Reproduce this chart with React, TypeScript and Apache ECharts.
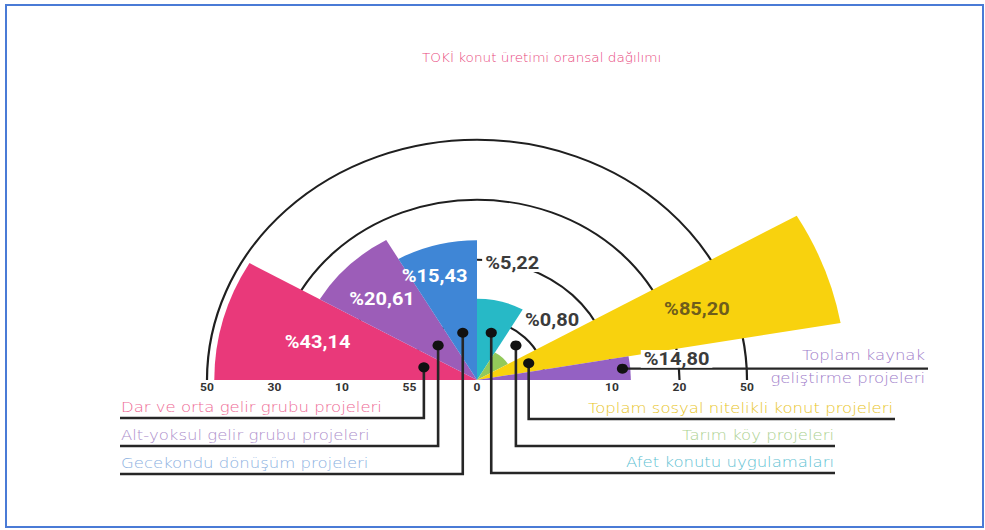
import React, { useEffect, useRef } from 'react';
import * as echarts from 'echarts';

// ---------------- data ----------------
const TITLE = 'TOKİ konut üretimi oransal dağılımı';
const CATEGORIES = [
  'Dar ve orta gelir grubu projeleri',
  'Alt-yoksul gelir grubu projeleri',
  'Gecekondu dönüşüm projeleri',
  'Afet konutu uygulamaları',
  'Tarım köy projeleri',
  'Toplam sosyal nitelikli konut projeleri',
  'Toplam kaynak geliştirme projeleri',
];
const VALUES = [43.14, 20.61, 15.43, 5.22, 0.8, 85.2, 14.8];
const LEFT_TICKS = ['0', '55', '10', '30', '50'];
const RIGHT_TICKS = ['', '', '10', '20', '50'];

// ---------------- layout & style ----------------
const S = 0.89; // the reference picture is squeezed vertically
const W = 985;
const H = 530 / S;
const CX = 477;
const CY = 380 / S;
const RING_R = 270;
const ROSE_K = 40; // px per sqrt(%)
const SLOT_SPAN = [3, 3, 3, 3, 3, 2, 1];
const SLOT_TOTAL = 18;
const COLORS = ['#e9397a', '#9c5db8', '#3f86d6', '#27b9c6', '#93c95a', '#f8d20e', '#9461c3'];
const TEXT_COLORS = ['#ee6a95', '#ae90cc', '#8cb1df', '#5fc2d3', '#acd190', '#e8c52a', '#a07dca'];
const LABEL_COLORS = ['#ffffff', '#ffffff', '#ffffff', '#3b3b3b', '#3b3b3b', '#6e5d1c', '#3b3b3b'];
const LABEL_R = [165, 132, 124, 136, 101, 234, 201];
const LABEL_DA = [0, 1, 5, 0, -3, 0, 1.8];
const LABEL_BG = [false, false, false, true, false, false, true];
const DOT_R = [55, 55, 55, 55, 55, 55, 146];
const ROW_Y = [418, 446, 474, 473, 446, 419, -1];
const LINE_END = [120, 120, 120, 835, 835, 895, 928];
const TEXT_X = [121, 121, 121, 834, 834, 893, 925];
const LEGEND_FONT = 'DejaVu Sans';
const BOLD_FONT = 'Roboto';

const fmt = (v: number) => '%' + v.toFixed(2).replace('.', ',');

export default function App() {
  const ref = useRef<HTMLDivElement>(null);
  useEffect(() => {
    if (!ref.current) return;
    const chart = echarts.init(ref.current, undefined, { renderer: 'svg' });

    let acc = 0;
    const data = VALUES.map((v, i) => {
      const row = [v, acc, acc + SLOT_SPAN[i]];
      acc += SLOT_SPAN[i];
      return row;
    });

    const renderItem = (params: any, api: any) => {
      const i = params.dataIndex;
      const cs = params.coordSys;
      const cx = cs.cx;
      const cy = cs.cy;
      const rv = Math.sqrt(api.value(0) as number);
      const pA = api.coord([rv, api.value(1)]);
      const pB = api.coord([rv, api.value(2)]);
      const ang = (p: number[]) => {
        let t = Math.atan2(cy - p[1], p[0] - cx);
        if (t < -Math.PI / 2) t += 2 * Math.PI;
        return t;
      };
      const r = Math.hypot(pA[0] - cx, pA[1] - cy);
      const t0 = ang(pA);
      const t1 = ang(pB);
      const tm = (t0 + t1) / 2;
      const pol = (rad: number, t: number) => [cx + rad * Math.cos(t), cy - rad * Math.sin(t)];
      const lp = pol(LABEL_R[i], tm + (LABEL_DA[i] * Math.PI) / 180);
      const dp = pol(DOT_R[i], tm);
      const hasRow = ROW_Y[i] > 0;
      const pts = hasRow
        ? [dp, [dp[0], ROW_Y[i] / S], [LINE_END[i], ROW_Y[i] / S]]
        : [dp, [LINE_END[i], dp[1]]];
      const leftSide = LINE_END[i] < cx;
      const legendText = hasRow ? CATEGORIES[i] : CATEGORIES[i].replace('kaynak ', 'kaynak\n');
      return {
        type: 'group',
        children: [
          {
            type: 'sector',
            z2: 1,
            shape: { cx, cy, r0: 0, r, startAngle: -t0, endAngle: -t1, clockwise: true },
            style: { fill: COLORS[i] },
          },
          {
            type: 'polyline',
            z2: 20,
            shape: { points: pts },
            style: { stroke: '#262626', lineWidth: 2.6, fill: null },
          },
          {
            type: 'circle',
            z2: 21,
            shape: { cx: dp[0], cy: dp[1], r: 5.6 },
            style: { fill: '#111111' },
          },
          {
            type: 'text',
            z2: 22,
            x: lp[0],
            y: lp[1],
            style: {
              text: fmt(api.value(0) as number),
              fill: LABEL_COLORS[i],
              fontFamily: BOLD_FONT,
              fontWeight: 'bold',
              fontSize: 20,
              align: 'center',
              verticalAlign: 'middle',
              backgroundColor: LABEL_BG[i] ? '#ffffff' : undefined,
              padding: LABEL_BG[i] ? [0, 3] : 0,
            },
          },
          {
            type: 'text',
            z2: 22,
            x: TEXT_X[i],
            y: hasRow ? (ROW_Y[i] - 11) / S : dp[1] - 1.5 / S,
            style: {
              text: legendText,
              fill: TEXT_COLORS[i],
              fontFamily: LEGEND_FONT,
              fontWeight: 200,
              fontSize: 16.5,
              lineHeight: 23 / S,
              align: leftSide ? 'left' : 'right',
              verticalAlign: 'middle',
            },
          },
        ],
      };
    };

    const tickLabel = (margin: number) => ({
      interval: 0,
      color: '#333333',
      fontFamily: BOLD_FONT,
      fontWeight: 'bold' as const,
      fontSize: 12,
      align: 'center' as const,
      verticalAlign: 'top' as const,
      margin,
    });

    chart.setOption({
      animation: false,
      backgroundColor: '#ffffff',
      title: {
        text: TITLE,
        left: 417,
        top: 47 / S,
        textStyle: {
          color: '#e8477d',
          fontFamily: LEGEND_FONT,
          fontWeight: 200,
          fontSize: 13.6,
        },
      },
      polar: [
        { center: [CX, CY], radius: ROSE_K * 10 },
        { center: [CX, CY], radius: RING_R },
        { center: [CX, CY], radius: RING_R },
      ],
      angleAxis: [
        { polarIndex: 0, type: 'value', min: 0, max: SLOT_TOTAL, startAngle: 180, endAngle: 0, clockwise: true, show: false },
        { polarIndex: 1, type: 'value', min: 0, max: 180, startAngle: 0, endAngle: 180, clockwise: false, show: false },
        { polarIndex: 2, type: 'value', min: 0, max: 180, startAngle: 180, endAngle: 0, clockwise: true, show: false },
      ],
      radiusAxis: [
        { polarIndex: 0, type: 'value', min: 0, max: 10, show: false },
        {
          polarIndex: 1,
          type: 'category',
          data: RIGHT_TICKS,
          boundaryGap: false,
          axisLine: { show: false },
          axisTick: { show: false },
          axisLabel: tickLabel(-2),
          splitLine: { show: true, lineStyle: { color: '#1f1f1f', width: 2.2 } },
        },
        {
          polarIndex: 2,
          type: 'category',
          data: LEFT_TICKS,
          boundaryGap: false,
          axisLine: { show: false },
          axisTick: { show: false },
          axisLabel: tickLabel(2),
          splitLine: { show: false },
        },
      ],
      graphic: [
        {
          type: 'rect',
          shape: { x: 6, y: 5 / S, width: 977, height: (527 - 5) / S },
          style: { fill: 'none', stroke: '#4a7bd6', lineWidth: 2 },
          z: 0,
          silent: true,
        },
      ],
      series: [
        {
          type: 'custom',
          coordinateSystem: 'polar',
          polarIndex: 0,
          renderItem,
          data,
          silent: true,
          clip: false,
        },
      ],
    });
    return () => chart.dispose();
  }, []);

  return (
    <div
      ref={ref}
      style={{
        position: 'fixed',
        left: 0,
        top: 0,
        width: W,
        height: H,
        transform: `scaleY(${S})`,
        transformOrigin: '0 0',
        background: '#ffffff',
      }}
    />
  );
}
